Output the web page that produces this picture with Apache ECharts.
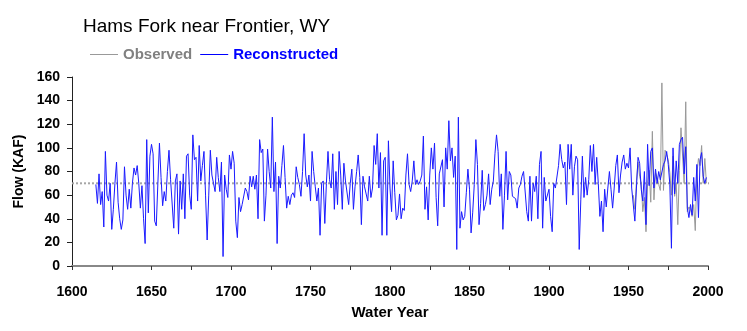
<!DOCTYPE html>
<html>
<head>
<meta charset="utf-8">
<script src="https://cdn.jsdelivr.net/npm/echarts@6/dist/echarts.min.js"></script>
<style>
  html, body { margin: 0; padding: 0; background: #ffffff; }
  #chart { width: 747px; height: 331px; }
</style>
</head>
<body>
<div id="chart"></div>
<script>
// Annual flow, thousand acre-feet (KAF)
const reconStart = 1615;
const reconstructed = [
  69, 53, 78, 52, 63,
  33, 97, 60, 55, 70, 31, 48, 70, 88, 54,
  40, 31, 39, 84, 60, 48, 65, 49, 70, 83,
  77, 85, 70, 49, 68, 40, 19, 107, 45, 93,
  103, 95, 38, 34, 70, 104, 75, 51, 63, 55,
  80, 98, 73, 74, 32, 72, 78, 27, 72, 48,
  78, 40, 93, 95, 60, 48, 111, 90, 92, 55,
  102, 72, 85, 97, 60, 22, 60, 98, 77, 70,
  63, 92, 75, 63, 88, 8, 77, 65, 58, 94,
  82, 97, 87, 38, 24, 58, 46, 52, 53, 66,
  63, 56, 76, 67, 76, 65, 77, 40, 107, 96,
  99, 38, 60, 99, 80, 66, 126, 63, 88, 19,
  76, 66, 85, 102, 75, 49, 59, 52, 60, 62,
  58, 84, 75, 69, 59, 80, 112, 77, 67, 77,
  55, 97, 80, 67, 55, 66, 26, 70, 72, 36,
  70, 97, 73, 66, 95, 48, 80, 52, 97, 77,
  48, 87, 72, 73, 52, 70, 82, 48, 67, 80,
  94, 75, 35, 76, 67, 66, 55, 76, 58, 66,
  102, 86, 112, 66, 96, 26, 89, 92, 26, 106,
  66, 46, 89, 62, 39, 43, 61, 40, 49, 47,
  77, 95, 69, 63, 72, 89, 69, 73, 69, 72,
  77, 110, 48, 67, 39, 77, 100, 82, 104, 58,
  34, 78, 78, 90, 50, 100, 82, 123, 89, 100,
  75, 93, 14, 126, 32, 46, 39, 42, 62, 82,
  65, 28, 45, 69, 107, 86, 35, 53, 81, 47,
  52, 60, 78, 52, 65, 72, 95, 111, 97, 59,
  78, 31, 60, 97, 56, 80, 77, 59, 58, 57,
  49, 66, 69, 76, 80, 80, 46, 38, 76, 38,
  70, 63, 76, 40, 86, 97, 32, 75, 55, 55,
  65, 42, 29, 70, 66, 67, 85, 103, 90, 83,
  88, 52, 103, 82, 103, 60, 84, 93, 90, 14,
  56, 93, 58, 75, 60, 73, 102, 80, 103, 69,
  92, 70, 42, 55, 29, 65, 50, 66, 80, 65,
  49, 66, 85, 94, 62, 77, 88, 94, 82, 87,
  83, 100, 66, 65, 38, 66, 92, 87, 65, 55,
  80, 35, 103, 68, 97, 100, 66, 82, 70, 80,
  73, 72, 86, 89, 97, 86, 69, 15, 100, 61,
  89, 70, 103, 107, 109, 78, 101, 49, 41, 52,
  43, 75, 55, 86, 41, 90, 96, 76, 70, 75
];

const observedStart = 1953;
const observed = [
  60, 48, 72, 88, 76, 70, 46,
  58, 29, 70, 81, 54, 114, 56, 79, 75, 69,
  64, 155, 64, 98, 94, 90, 79, 60, 93, 59,
  70, 35, 81, 117, 118, 70, 139, 46, 50, 48,
  42, 52, 30, 78, 91, 85, 102, 70, 91, 70
];

// Long-term mean of the reconstruction, drawn as a dotted reference line
const meanFlow = 70;
const meanYears = [1600, 2002];

const yearTicks = [1600, 1650, 1700, 1750, 1800, 1850, 1900, 1950, 2000];
const flowTicks = [0, 20, 40, 60, 80, 100, 120, 140, 160];

const font = "'Liberation Sans', Arial, Helvetica, sans-serif";

function toPairs(start, values) {
  return values.map((v, i) => [start + i, v]);
}

const chart = echarts.init(document.getElementById('chart'), null, { renderer: 'canvas' });

chart.setOption({
  animation: false,
  backgroundColor: '#ffffff',
  title: {
    text: 'Hams Fork near Frontier, WY',
    left: 78,
    top: 12,
    textStyle: { fontFamily: font, fontSize: 19, fontWeight: 'normal', color: '#000000' }
  },
  legend: {
    data: [
      { name: 'Observed', textStyle: { color: '#808080' } },
      { name: 'Reconstructed', textStyle: { color: '#0000ff' } }
    ],
    left: 85,
    top: 42,
    icon: 'rect',
    itemWidth: 28,
    itemHeight: 1,
    itemGap: 8,
    textStyle: { fontFamily: font, fontSize: 15, fontWeight: 'bold' }
  },
  grid: { left: 72, right: 39, top: 77, bottom: 65 },
  xAxis: {
    type: 'value',
    min: yearTicks[0],
    max: yearTicks[yearTicks.length - 1],
    interval: 25,
    name: 'Water Year',
    nameLocation: 'middle',
    nameGap: 39,
    nameTextStyle: { fontFamily: font, fontSize: 15, fontWeight: 'bold', color: '#000000' },
    axisLine: { show: true, lineStyle: { color: '#888888', width: 2 } },
    axisTick: { show: true, length: 4, inside: false, lineStyle: { color: '#333333', width: 1 } },
    axisLabel: {
      margin: 19,
      fontFamily: font,
      fontSize: 14,
      fontWeight: 'bold',
      color: '#000000',
      formatter: v => (yearTicks.indexOf(v) >= 0 ? String(v) : '')
    },
    splitLine: { show: false }
  },
  yAxis: {
    type: 'value',
    min: flowTicks[0],
    max: flowTicks[flowTicks.length - 1],
    interval: 20,
    name: 'Flow (KAF)',
    nameLocation: 'middle',
    nameGap: 46,
    nameTextStyle: { fontFamily: font, fontSize: 14, fontWeight: 'bold', color: '#000000' },
    axisLine: { show: true, lineStyle: { color: '#222222', width: 1 } },
    axisTick: { show: true, length: 5, inside: false, lineStyle: { color: '#222222', width: 1 } },
    axisLabel: {
      margin: 12,
      fontFamily: font,
      fontSize: 14,
      fontWeight: 'bold',
      color: '#000000'
    },
    splitLine: { show: false }
  },
  series: [
    {
      name: 'Mean',
      type: 'line',
      data: meanYears.map(y => [y, meanFlow]),
      symbol: 'none',
      clip: false,
      silent: true,
      lineStyle: { color: '#a6a6a6', width: 2, type: [2, 2] },
      z: 1
    },
    {
      name: 'Observed',
      type: 'line',
      data: toPairs(observedStart, observed),
      symbol: 'none',
      lineStyle: { color: '#999999', width: 1 },
      itemStyle: { color: '#999999' },
      z: 2
    },
    {
      name: 'Reconstructed',
      type: 'line',
      data: toPairs(reconStart, reconstructed),
      symbol: 'none',
      lineStyle: { color: '#1a1aff', width: 1 },
      itemStyle: { color: '#0000ff' },
      z: 3
    }
  ]
});
</script>
</body>
</html>
